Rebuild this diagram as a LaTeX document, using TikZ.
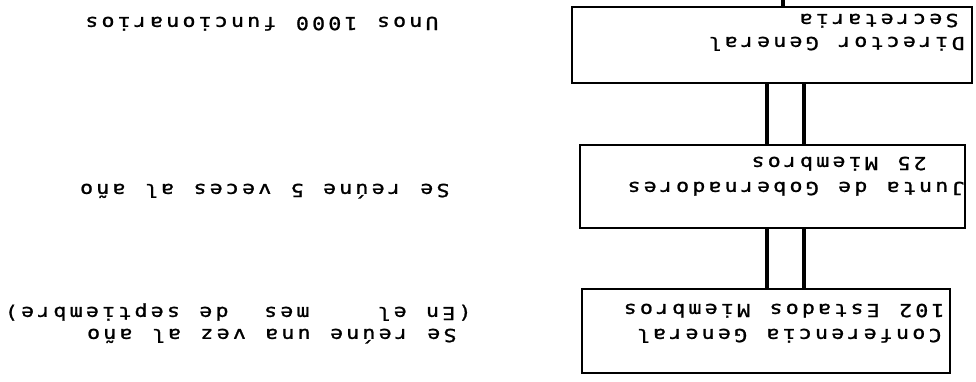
\documentclass[tikz,border=0pt]{standalone}
\usepackage{fontspec}
\newfontfamily\twfont[FakeStretch=1.2, FakeBold=1.2]{DejaVu Sans Mono}
\newlength\tpitch
\setlength\tpitch{8.1pt}
\newcommand\tw[1]{\twloop#1\relax}
\newcommand\twloop[1]{\ifx\relax#1\else\makebox[\tpitch][c]{#1}\expandafter\twloop\fi}
\tikzset{
  box/.style={draw, line width=1.1pt, inner sep=0pt, outer sep=0pt},
  link/.style={line width=1.6pt},
  txt/.style={rotate=180, anchor=base west, inner sep=0pt, outer sep=0pt,
              font=\twfont\fontsize{9}{11}\selectfont},
}
\begin{document}
\begin{tikzpicture}[x=0.5pt, y=-0.5pt]
\useasboundingbox (0,0) rectangle (976,381);
% boxes
\node[box, minimum width=200pt, minimum height=38pt] (b1) at (772,45) {};
\node[box, minimum width=192.5pt, minimum height=41.5pt] (b2) at (772.5,186.5) {};
\node[box, minimum width=184pt, minimum height=42pt] (b3) at (766,331) {};
% connector positions
\coordinate (cl) at (767,0);
\coordinate (cr) at (804,0);
\coordinate (top) at (783,0);
\draw[link] (b1.north -| top) -- (top);
\draw[link] (b1.south -| cl) -- (b2.north -| cl);
\draw[link] (b1.south -| cr) -- (b2.north -| cr);
\draw[link] (b2.south -| cl) -- (b3.north -| cl);
\draw[link] (b2.south -| cr) -- (b3.north -| cr);
% box texts
\node[txt] (t1) at (966.1,37) {\tw{Director~General}};
\node[txt] (t2) at (960.1,14) {\tw{Secretaria}};
\node[txt] (t3) at (966.1,182) {\tw{Junta~de~Gobernadores}};
\node[txt] (t4) at (928.1,157) {\tw{25~Miembros}};
\node[txt] (t5) at (943.1,329) {\tw{Conferencia~General}};
\node[txt] (t6) at (946.1,304) {\tw{102~Estados~Miembros}};
% side texts
\node[txt] (s1) at (440.1,17) {\tw{Unos~1000~funcionarios}};
\node[txt] (s2) at (451.1,184) {\tw{Se~reúne~5~veces~al~año}};
\node[txt] (s3) at (458.1,329) {\tw{Se~reúne~una~vez~al~año}};
\node[txt] (s4) at (473.1,307) {\tw{(En~el~~~~mes~~de~septiembre)}};
\end{tikzpicture}
\end{document}
